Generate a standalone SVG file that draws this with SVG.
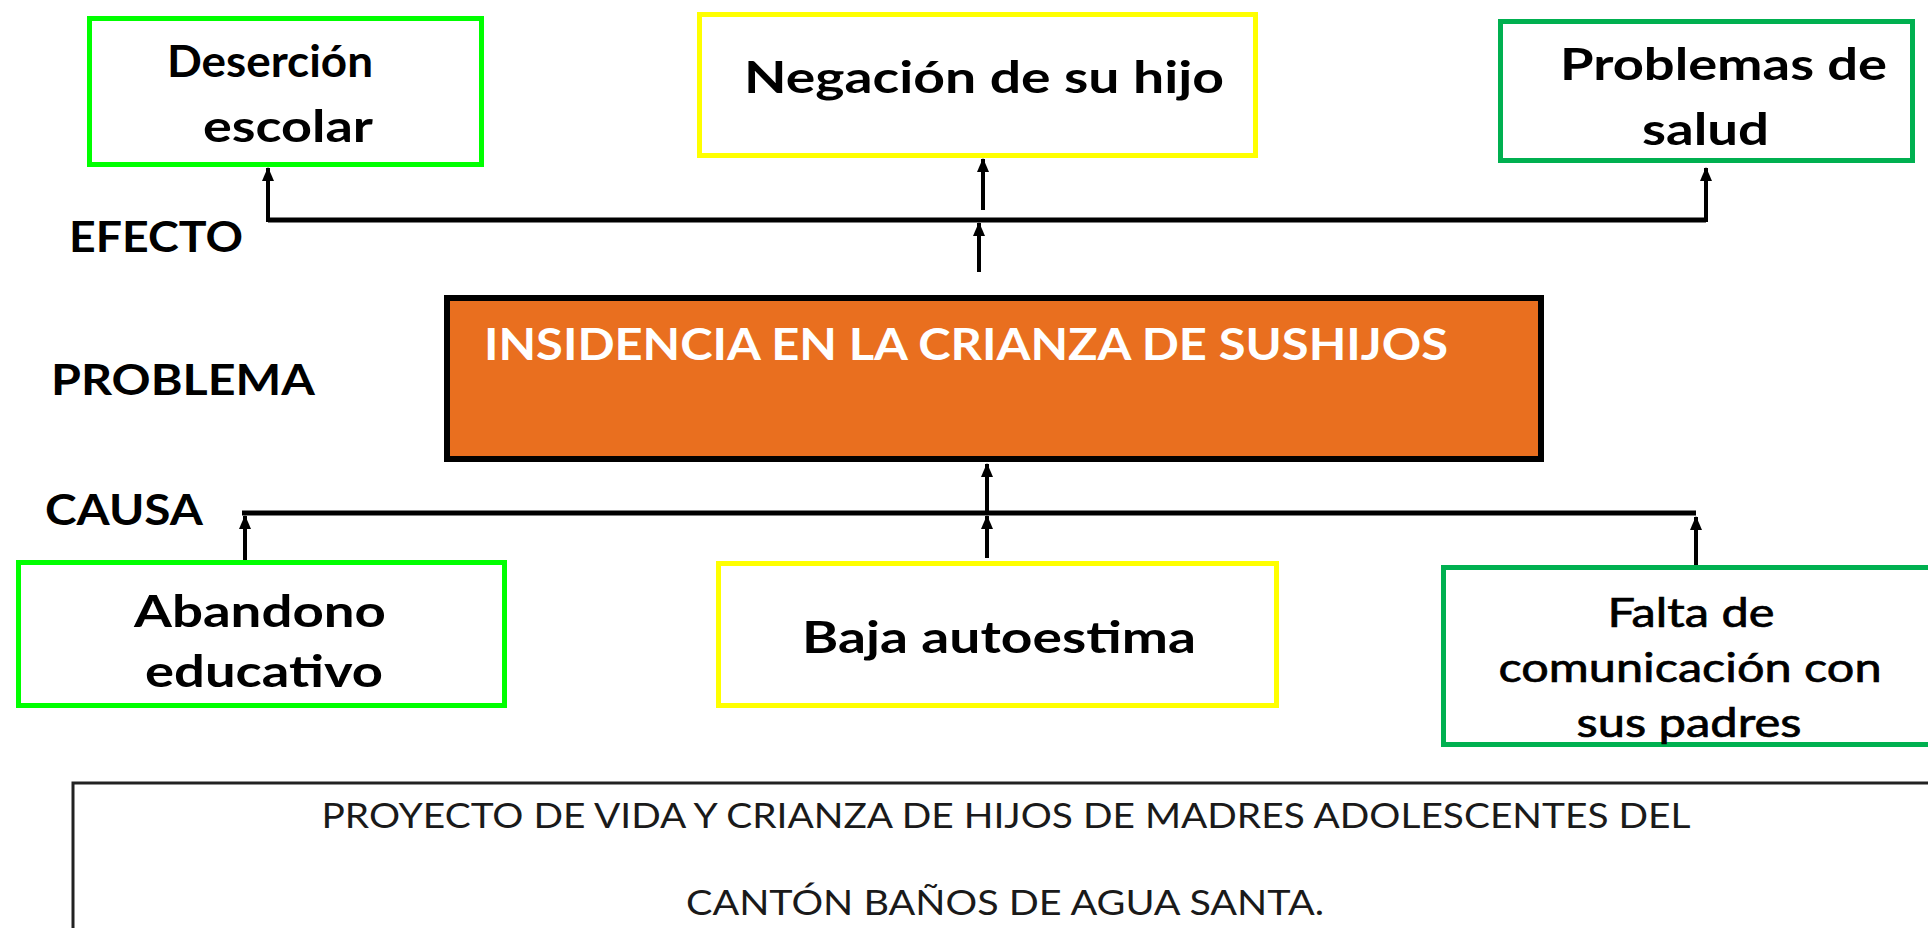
<svg xmlns="http://www.w3.org/2000/svg" width="1928" height="928" viewBox="0 0 1928 928">
<style>
  .bx { fill: #ffffff; stroke-width: 5; }
  .lime { stroke: #00FF00; }
  .yel { stroke: #FFFF00; }
  .grn { stroke: #00B050; }
  .t { font-family: Lato, "Open Sans", "Liberation Sans", sans-serif; fill: #000; }
  .b { font-weight: bold; font-size: 44px; }
  .lbl { font-weight: bold; font-size: 42px; }
  .reg { font-weight: normal; font-size: 40px; stroke: #000; stroke-width: 0.7; }
  .foot { font-weight: normal; font-size: 35px; fill: #1a1a1a; }
  .wh { fill: #ffffff; }
  .bus { fill: none; stroke: #000; stroke-width: 5; }
  .arr { fill: none; stroke: #000; stroke-width: 4; marker-end: url(#ah); }
</style>
<defs>
  <marker id="ah" viewBox="0 0 14 12" refX="13" refY="6" markerWidth="14" markerHeight="12" markerUnits="userSpaceOnUse" orient="auto">
    <path d="M0,0 L14,6 L0,12 z" fill="#000"/>
  </marker>
</defs>
<rect width="1928" height="928" fill="#ffffff"/>

<g id="connectors">
  <path class="bus" d="M268,220 H1706"/>
  <path class="arr" d="M268,222 V168"/>
  <path class="arr" d="M1706,222 V168"/>
  <path class="arr" d="M983,210 V159"/>
  <path class="arr" d="M979,272 V223"/>
  <path class="bus" d="M242,513 H1696"/>
  <path class="arr" d="M245,560 V516"/>
  <path class="arr" d="M1696,565 V517"/>
  <path class="arr" d="M987,558 V516"/>
  <path class="arr" d="M987,513 V464"/>
</g>

<g id="labels">
  <text class="t lbl" x="69" y="252" textLength="174" lengthAdjust="spacingAndGlyphs">EFECTO</text>
  <text class="t lbl" x="51" y="395" textLength="264" lengthAdjust="spacingAndGlyphs">PROBLEMA</text>
  <text class="t lbl" x="45" y="525" textLength="158" lengthAdjust="spacingAndGlyphs">CAUSA</text>
</g>

<g id="node-desercion">
  <rect class="bx lime" x="89.5" y="18.5" width="392" height="146"/>
  <text class="t b" x="270" y="77" text-anchor="middle" textLength="206" lengthAdjust="spacingAndGlyphs">Deserción</text>
  <text class="t b" x="288" y="142" text-anchor="middle" textLength="170" lengthAdjust="spacingAndGlyphs">escolar</text>
</g>

<g id="node-negacion">
  <rect class="bx yel" x="699.5" y="14.5" width="556" height="141"/>
  <text class="t b" x="984" y="93" text-anchor="middle" textLength="480" lengthAdjust="spacingAndGlyphs">Negación de su hijo</text>
</g>

<g id="node-problemas">
  <rect class="bx grn" x="1500.5" y="21.5" width="412" height="139"/>
  <text class="t b" x="1723.5" y="80" text-anchor="middle" textLength="327" lengthAdjust="spacingAndGlyphs">Problemas de</text>
  <text class="t b" x="1705.5" y="145" text-anchor="middle" textLength="127" lengthAdjust="spacingAndGlyphs">salud</text>
</g>

<g id="node-problema">
  <rect x="447" y="298" width="1094" height="161" fill="#E96F1F" stroke="#000" stroke-width="6"/>
  <text class="t b wh" x="484" y="360" textLength="964" lengthAdjust="spacingAndGlyphs">INSIDENCIA EN LA CRIANZA DE SUSHIJOS</text>
</g>

<g id="node-abandono">
  <rect class="bx lime" x="18.5" y="562.5" width="486" height="143"/>
  <text class="t b" x="260" y="627" text-anchor="middle" textLength="252" lengthAdjust="spacingAndGlyphs">Abandono</text>
  <text class="t b" x="264" y="687" text-anchor="middle" textLength="238" lengthAdjust="spacingAndGlyphs">educativo</text>
</g>

<g id="node-baja">
  <rect class="bx yel" x="718.5" y="563.5" width="558" height="142"/>
  <text class="t b" x="999" y="653" text-anchor="middle" textLength="394" lengthAdjust="spacingAndGlyphs">Baja autoestima</text>
</g>

<g id="node-falta">
  <rect class="bx grn" x="1443.5" y="567.5" width="500" height="177"/>
  <text class="t reg" x="1691" y="627" text-anchor="middle" textLength="167" lengthAdjust="spacingAndGlyphs">Falta de</text>
  <text class="t reg" x="1690" y="682" text-anchor="middle" textLength="383" lengthAdjust="spacingAndGlyphs">comunicación con</text>
  <text class="t reg" x="1689" y="737" text-anchor="middle" textLength="225" lengthAdjust="spacingAndGlyphs">sus padres</text>
</g>

<g id="node-titulo">
  <rect x="73" y="783" width="1900" height="200" fill="none" stroke="#222" stroke-width="3"/>
  <text class="t foot" x="1006" y="828" text-anchor="middle" textLength="1369" lengthAdjust="spacingAndGlyphs">PROYECTO DE VIDA Y CRIANZA DE HIJOS DE MADRES ADOLESCENTES DEL</text>
  <text class="t foot" x="1005" y="915" text-anchor="middle" textLength="638" lengthAdjust="spacingAndGlyphs">CANTÓN BAÑOS DE AGUA SANTA.</text>
</g>
</svg>
